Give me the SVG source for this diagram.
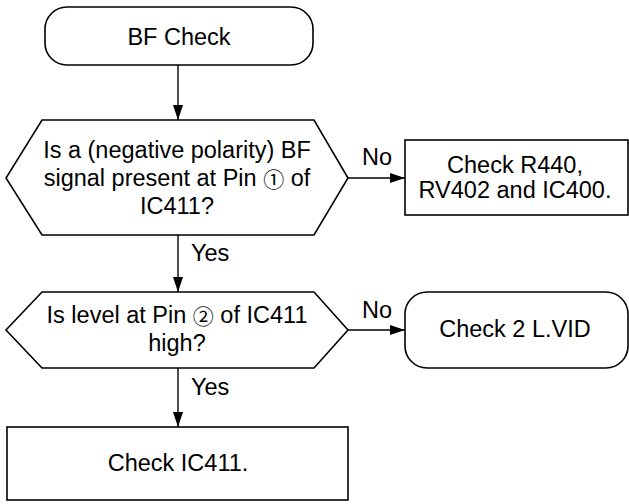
<svg xmlns="http://www.w3.org/2000/svg" width="629" height="504" viewBox="0 0 629 504">
  <style>
    .shape { fill: #ffffff; stroke: #000000; stroke-width: 1.6; }
    .line { fill: none; stroke: #000000; stroke-width: 1.4; }
    text { font-family: "Liberation Sans", Arial, "DejaVu Sans", sans-serif; font-size: 23.5px; fill: #000000; text-anchor: middle; dominant-baseline: central; }
    .lbl { text-anchor: start; }
    .pin { font-family: "Noto Sans CJK JP", "DejaVu Sans", sans-serif; font-size: 21px; }
  </style>
  <defs>
    <marker id="arrow" markerWidth="16" markerHeight="10" refX="15" refY="5" orient="auto" markerUnits="userSpaceOnUse">
      <path d="M0,0 L15,5 L0,10 Z" fill="#000000"/>
    </marker>
  </defs>
  <rect width="629" height="504" fill="#ffffff"/>

  <g id="start">
    <rect class="shape" x="45" y="7" width="268" height="58" rx="22" ry="22"/>
    <text x="179" y="37">BF Check</text>
  </g>

  <g id="q1">
    <polygon class="shape" points="42,120 314,120 348,178 314,235 42,235 6,178"/>
    <text x="177" y="150">Is a (negative polarity) BF</text>
    <text x="177" y="178">signal present at Pin <tspan class="pin">①</tspan> of</text>
    <text x="177" y="206">IC411?</text>
  </g>

  <g id="fix1">
    <rect class="shape" x="405" y="140" width="223" height="75"/>
    <text x="515" y="165">Check R440,</text>
    <text x="515" y="190">RV402 and IC400.</text>
  </g>

  <g id="q2">
    <polygon class="shape" points="42,292 314,292 348,330 314,368 42,368 6,330"/>
    <text x="177" y="315">Is level at Pin <tspan class="pin">②</tspan> of IC411</text>
    <text x="177" y="343">high?</text>
  </g>

  <g id="fix2">
    <rect class="shape" x="405" y="292" width="223" height="76" rx="22" ry="22"/>
    <text x="515" y="329">Check 2 L.VID</text>
  </g>

  <g id="fix3">
    <rect class="shape" x="7" y="427" width="341" height="73"/>
    <text x="178" y="463">Check IC411.</text>
  </g>

  <g id="connectors">
    <line class="line" x1="178" y1="65" x2="178" y2="120" marker-end="url(#arrow)"/>
    <line class="line" x1="348" y1="178" x2="405" y2="178" marker-end="url(#arrow)"/>
    <line class="line" x1="178" y1="235" x2="178" y2="292" marker-end="url(#arrow)"/>
    <line class="line" x1="348" y1="330" x2="405" y2="330" marker-end="url(#arrow)"/>
    <line class="line" x1="178" y1="368" x2="178" y2="427" marker-end="url(#arrow)"/>
    <text class="lbl" x="362" y="157">No</text>
    <text class="lbl" x="191" y="253">Yes</text>
    <text class="lbl" x="362" y="310">No</text>
    <text class="lbl" x="191" y="387">Yes</text>
  </g>
</svg>
